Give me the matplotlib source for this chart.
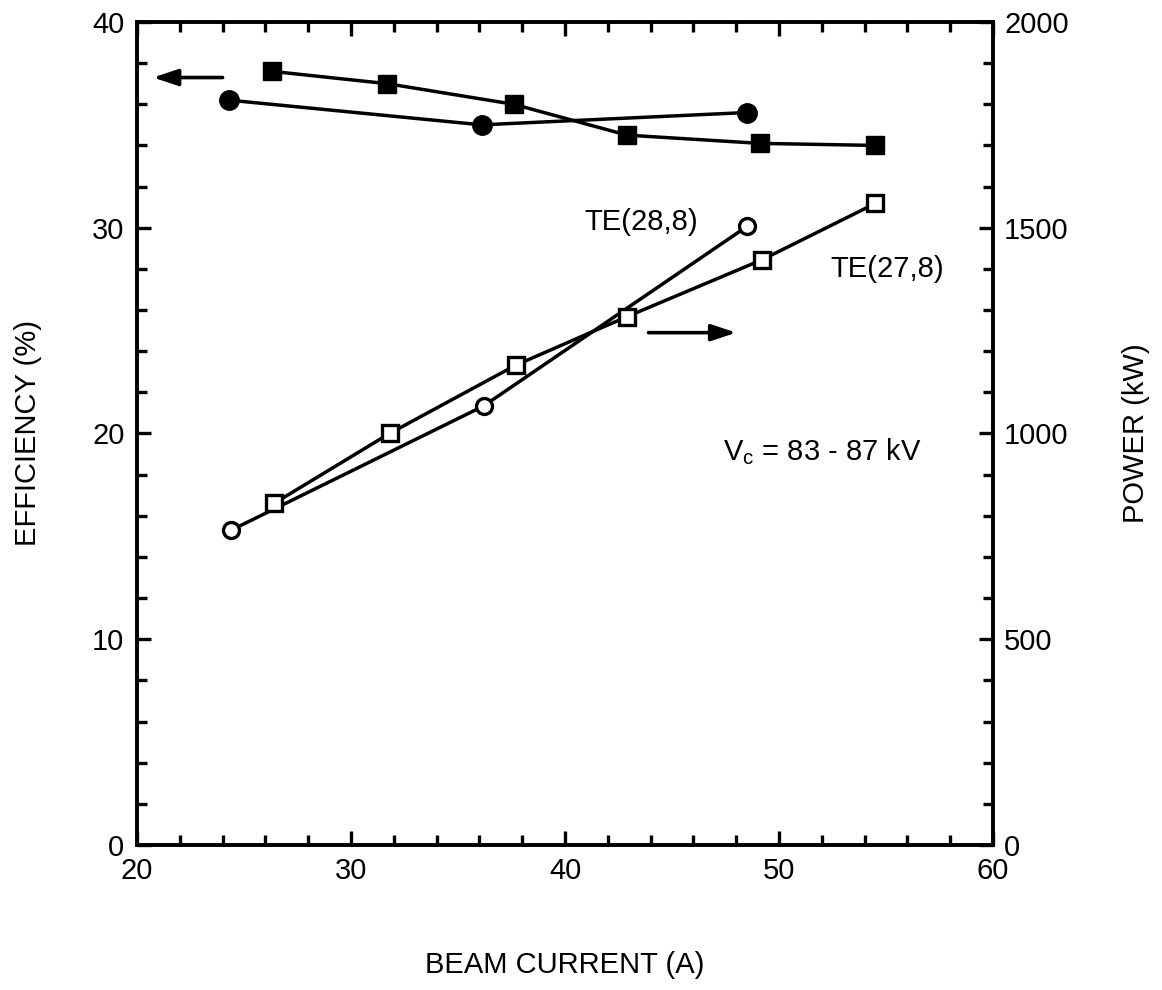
import matplotlib
matplotlib.use("Agg")
import matplotlib.pyplot as plt
from matplotlib.ticker import MultipleLocator

plt.rcParams['font.family'] = ['Liberation Sans', 'DejaVu Sans']

# efficiency (left axis), filled markers
eff_circle_x = [24.3, 36.1, 48.5]
eff_circle_y = [36.2, 35.0, 35.6]
eff_square_x = [26.3, 31.7, 37.6, 42.9, 49.1, 54.5]
eff_square_y = [37.6, 37.0, 36.0, 34.5, 34.1, 34.0]

# power (right axis), open markers
pow_circle_x = [24.4, 36.2, 48.5]
pow_circle_y = [765, 1067, 1503]
pow_square_x = [26.4, 31.8, 37.7, 42.9, 49.2, 54.5]
pow_square_y = [830, 1000, 1166, 1284, 1422, 1559]

FS = 21

fig = plt.figure(figsize=(11.62, 9.9), dpi=100)
ax = fig.add_axes([0.1179, 0.1465, 0.7367, 0.8313])
ax2 = ax.twinx()

lw = 2.5
ax.plot(eff_circle_x, eff_circle_y, color='black', lw=lw, marker='o', ms=14, mfc='black')
ax.plot(eff_square_x, eff_square_y, color='black', lw=lw, marker='s', ms=13.5, mfc='black')
ax2.plot(pow_circle_x, pow_circle_y, color='black', lw=lw, marker='o', ms=11.5,
         mfc='white', mew=2.4)
ax2.plot(pow_square_x, pow_square_y, color='black', lw=lw, marker='s', ms=12,
         mfc='white', mew=2.4)

ax.set_xlim(20, 60)
ax.set_ylim(0, 40)
ax2.set_ylim(0, 2000)

ax.xaxis.set_major_locator(MultipleLocator(10))
ax.xaxis.set_minor_locator(MultipleLocator(2))
ax.yaxis.set_major_locator(MultipleLocator(10))
ax.yaxis.set_minor_locator(MultipleLocator(2))
ax2.yaxis.set_major_locator(MultipleLocator(500))
ax2.yaxis.set_minor_locator(MultipleLocator(100))

ax.tick_params(which='both', direction='in', top=True, right=False, width=2.4,
               labelsize=FS, pad=9)
ax.tick_params(which='major', length=10)
ax.tick_params(which='minor', length=7)
ax2.tick_params(which='both', direction='in', width=2.4, labelsize=FS, pad=8)
ax2.tick_params(which='major', length=10)
ax2.tick_params(which='minor', length=7)

for a in (ax, ax2):
    for s in a.spines.values():
        s.set_linewidth(2.6)

ax.set_xlabel('BEAM CURRENT (A)', fontsize=FS, labelpad=47)
ax.set_ylabel('EFFICIENCY (%)', fontsize=FS, labelpad=36)
ax2.set_ylabel('POWER (kW)', fontsize=FS, labelpad=38)

ax.text(46.2, 30.3, 'TE(28,8)', fontsize=FS, ha='right', va='center')
ax.text(57.7, 28.0, 'TE(27,8)', fontsize=FS, ha='right', va='center')
ax.text(47.4, 19.1, r'V$_\mathregular{c}$ = 83 - 87 kV', fontsize=FS, ha='left', va='center')

arrow = dict(arrowstyle='-|>,head_length=1.5,head_width=0.5', color='black', lw=2.6,
             shrinkA=0, shrinkB=0)
ax.annotate('', xy=(20.75, 37.3), xytext=(24.0, 37.3), arrowprops=arrow)
ax.annotate('', xy=(48.0, 24.9), xytext=(43.9, 24.9), arrowprops=arrow)

fig.savefig('out.png', dpi=100)
